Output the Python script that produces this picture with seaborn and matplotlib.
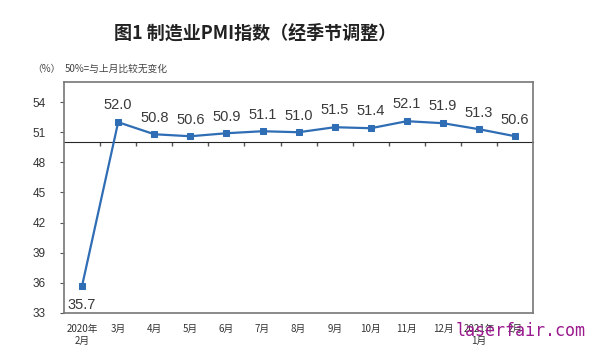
import numpy as np
import pandas as pd
import matplotlib
matplotlib.use("Agg")
import matplotlib.pyplot as plt
import seaborn as sns

# PMI data
months = ["2020年\n2月", "3月", "4月", "5月", "6月", "7月", "8月",
          "9月", "10月", "11月", "12月", "2021年\n1月", "2月"]
pmi = [35.7, 52.0, 50.8, 50.6, 50.9, 51.1, 51.0, 51.5, 51.4, 52.1, 51.9, 51.3, 50.6]
yticks = [33, 36, 39, 42, 45, 48, 51, 54]

df = pd.DataFrame({"idx": np.arange(len(months)), "pmi": pmi})

sns.set_style("white")
plt.rcParams["font.family"] = ["Liberation Sans", "Noto Sans CJK SC", "DejaVu Sans"]

fig = plt.figure(figsize=(6, 3.62), dpi=100)
ax = fig.add_axes([0.1067, 0.1354, 0.782, 0.638])

line_color = "#2f6db5"
sns.lineplot(data=df, x="idx", y="pmi", ax=ax, color=line_color, linewidth=1.6,
             marker="s", markersize=5, markeredgecolor=line_color)

for i, v in enumerate(pmi):
    if i == 0:
        ax.annotate(f"{v:.1f}", (i, v), xytext=(0, -9), textcoords="offset points",
                    ha="center", va="top", fontsize=10.5, color="#3a3a3a")
    else:
        ax.annotate(f"{v:.1f}", (i, v), xytext=(0, 7), textcoords="offset points",
                    ha="center", va="bottom", fontsize=10.5, color="#3a3a3a")

ax.set_xlim(-0.5, len(months) - 0.5)
ax.set_ylim(33, 56)
ax.set_yticks(yticks)
ax.set_yticklabels([str(t) for t in yticks], fontsize=8.5, color="#333333")
ax.set_xticks(np.arange(len(months)))
ax.set_xticklabels(months, fontsize=7, color="#333333", family=["Noto Sans CJK SC"])
ax.tick_params(axis="x", length=0, pad=8)
ax.tick_params(axis="y", length=3, direction="out", left=True, pad=10, color="#555555")
ax.set_xlabel("")
ax.set_ylabel("")
for s in ax.spines.values():
    s.set_color("#777777")
    s.set_linewidth(1.2)

# 50 reference line with category boundary ticks
sec = ax.secondary_xaxis((50 - 33) / (56 - 33))
sec.set_xticks(np.arange(0.5, len(months) - 1, 1))
sec.set_xticklabels([])
sec.tick_params(direction="in", length=3, color="#555555", width=1)
sec.spines["bottom"].set_color("#555555")
sec.spines["bottom"].set_linewidth(1.2)

fig.text(0.425, 0.909, "图1 制造业PMI指数（经季节调整）", ha="center", va="center",
         fontsize=13, fontweight="bold", color="#222222", family=["Noto Sans CJK SC"])
fig.text(0.053, 0.81, "（%）", ha="left", va="center", fontsize=7,
         color="#444444", family=["Noto Sans CJK SC"])
fig.text(0.108, 0.81, "50%=与上月比较无变化", ha="left", va="center", fontsize=7,
         color="#444444", family=["Noto Sans CJK SC"])
fig.text(0.76, 0.085, "laserfair.com", ha="left", va="center", fontsize=12,
         color="#9b1a8f", family=["DejaVu Sans Mono"])

fig.savefig("out.png", dpi=100)
